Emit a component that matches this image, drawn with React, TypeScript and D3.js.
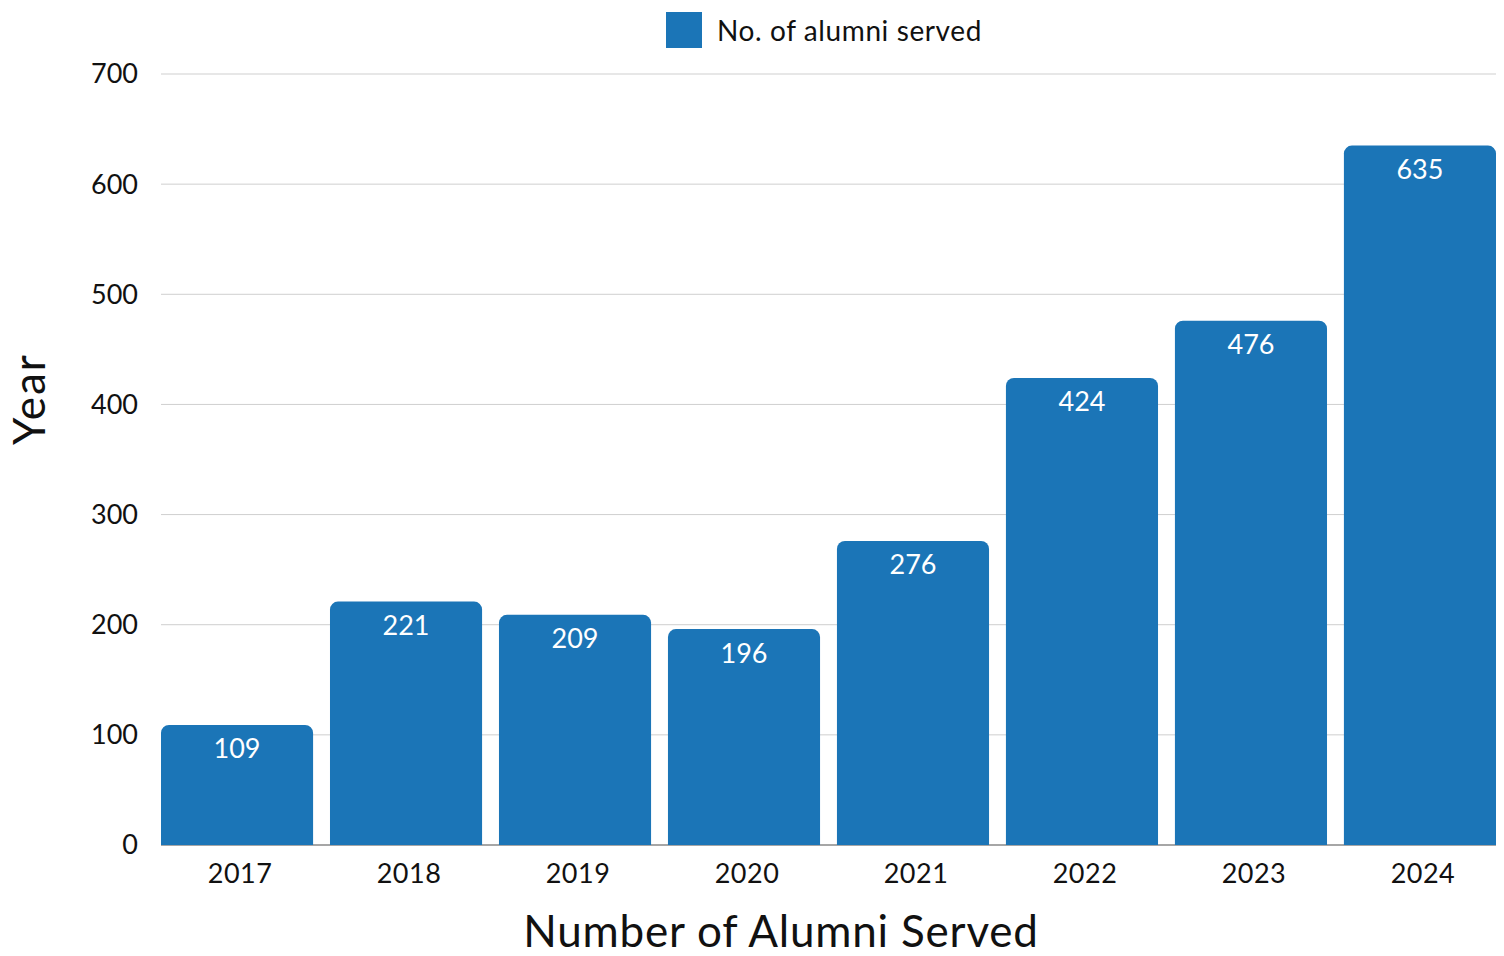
import * as d3 from "d3";
import { useEffect, useRef } from "react";

const years = ["2017", "2018", "2019", "2020", "2021", "2022", "2023", "2024"];
const alumniServed = [109, 221, 209, 196, 276, 424, 476, 635];
const yTicks = [0, 100, 200, 300, 400, 500, 600, 700];

const FONT = "Lato, 'Noto Sans', sans-serif";
const BAR = "#1b75b7";

const App = () => {
  const svgRef = useRef(null);
  const width = 1504;
  const height = 956;

  useEffect(() => {
    const svg = d3.select(svgRef.current);
    svg.selectAll("*").remove();

    const margin = { top: 74, right: 8, bottom: 111, left: 161 };
    const innerW = width - margin.left - margin.right;
    const innerH = height - margin.top - margin.bottom;

    const g = svg
      .append("g")
      .attr("transform", "translate(" + margin.left + "," + margin.top + ")");

    const x = d3.scaleBand().domain(years).range([0, innerW]).paddingInner(0.1).paddingOuter(0);
    const y = d3.scaleLinear().domain([0, 700]).range([innerH, 0]);

    // grid lines
    g.selectAll(".grid")
      .data(yTicks)
      .join("line")
      .attr("x1", 0)
      .attr("x2", innerW)
      .attr("y1", (d) => y(d))
      .attr("y2", (d) => y(d))
      .attr("stroke", (d) => (d === 0 ? "#888" : "#cfcfcf"))
      .attr("stroke-width", (d) => (d === 0 ? 1.5 : 1));

    // y tick labels
    g.selectAll(".ytick")
      .data(yTicks)
      .join("text")
      .attr("x", -23)
      .attr("y", (d) => y(d))
      .attr("dy", "0.35em")
      .attr("text-anchor", "end")
      .attr("font-family", FONT)
      .attr("font-size", 27)
      .attr("fill", "#111")
      .text((d) => d);

    const r = 8;
    const barPath = (d: number, i: number) => {
      const x0 = x(years[i])!;
      const x1 = x0 + x.bandwidth();
      const y0 = y(d);
      const yb = y(0);
      const p = d3.path();
      p.moveTo(x0, yb);
      p.lineTo(x0, y0 + r);
      p.arcTo(x0, y0, x0 + r, y0, r);
      p.lineTo(x1 - r, y0);
      p.arcTo(x1, y0, x1, y0 + r, r);
      p.lineTo(x1, yb);
      p.closePath();
      return p.toString();
    };

    g.selectAll(".bar")
      .data(alumniServed)
      .join("path")
      .attr("d", (d, i) => barPath(d, i))
      .attr("fill", BAR);

    g.selectAll(".val")
      .data(alumniServed)
      .join("text")
      .attr("x", (d, i) => x(years[i])! + x.bandwidth() / 2)
      .attr("y", (d) => y(d) + 24)
      .attr("dy", "0.35em")
      .attr("text-anchor", "middle")
      .attr("font-family", FONT)
      .attr("font-size", 27)
      .attr("fill", "#fff")
      .text((d) => d);

    // x tick labels
    g.selectAll(".xtick")
      .data(years)
      .join("text")
      .attr("x", (d) => x(d)! + x.bandwidth() / 2 + 3)
      .attr("y", innerH + 29)
      .attr("dy", "0.35em")
      .attr("text-anchor", "middle")
      .attr("font-family", FONT)
      .attr("font-size", 27)
      .attr("letter-spacing", 0.5)
      .attr("fill", "#111")
      .text((d) => d);

    // axis titles
    svg
      .append("text")
      .attr("x", 781)
      .attr("y", 932)
      .attr("dy", "0.35em")
      .attr("text-anchor", "middle")
      .attr("font-family", FONT)
      .attr("font-size", 44)
      .attr("letter-spacing", 0.8)
      .attr("fill", "#111")
      .text("Number of Alumni Served");

    svg
      .append("text")
      .attr("transform", "translate(30,399) rotate(-90)")
      .attr("dy", "0.35em")
      .attr("text-anchor", "middle")
      .attr("font-family", FONT)
      .attr("font-size", 44)
      .attr("letter-spacing", 2)
      .attr("fill", "#111")
      .text("Year");

    // legend
    svg
      .append("rect")
      .attr("x", 666)
      .attr("y", 12)
      .attr("width", 36)
      .attr("height", 36)
      .attr("fill", BAR);
    svg
      .append("text")
      .attr("x", 717)
      .attr("y", 31)
      .attr("dy", "0.35em")
      .attr("font-family", FONT)
      .attr("font-size", 28)
      .attr("letter-spacing", 0.6)
      .attr("fill", "#111")
      .text("No. of alumni served");
  }, []);

  return (
    <svg
      ref={svgRef}
      width={width}
      height={height}
      style={{ position: "absolute", left: 0, top: 0, background: "#fff" }}
    />
  );
};

export default App;
